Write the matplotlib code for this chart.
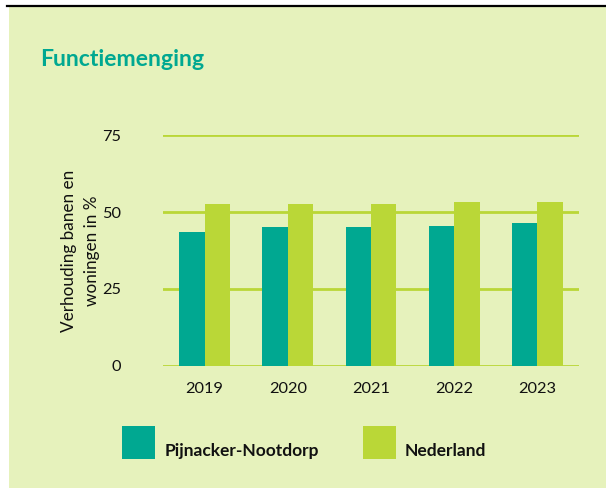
import numpy as np
import matplotlib.pyplot as plt
from matplotlib.patches import Rectangle
from matplotlib.lines import Line2D

# data
jaren = ["2019", "2020", "2021", "2022", "2023"]
pijnacker = [43.5, 45.0, 45.0, 45.5, 46.3]
nederland = [52.7, 52.7, 52.7, 53.3, 53.3]
yticks = [0, 25, 50, 75]

teal = "#00A891"
lime = "#BAD737"
bg = "#E6F2BC"

plt.rcParams['font.family'] = ['Lato', 'DejaVu Sans']

fig = plt.figure(figsize=(6.06, 4.88), dpi=100)
fig.patch.set_facecolor("white")

# achtergrondvlak en zwarte lijn bovenaan
fig.add_artist(Rectangle((9/606, 0), 1 - 9/606, 1 - 7/488, transform=fig.transFigure,
                         facecolor=bg, edgecolor="none", zorder=-10))
fig.add_artist(Line2D([7/606, 1], [1 - 6/488, 1 - 6/488], transform=fig.transFigure,
                      color="black", lw=1.6))

ax = fig.add_axes([163/606, 1 - 365.7/488, 416/606, (365.7 - 135.3)/488])
ax.set_facecolor("none")

x = np.arange(len(jaren))
w = 0.305
ax.bar(x - w/2, pijnacker, w, color=teal, zorder=3)
ax.bar(x + w/2, nederland, w, color=lime, zorder=3)

ax.set_xlim(-0.5, len(jaren) - 0.5)
ax.set_ylim(0, 75)
ax.set_yticks(yticks)
ax.set_xticks(x)
ax.set_xticklabels(jaren)
for s in ax.spines.values():
    s.set_visible(False)
ax.yaxis.grid(True, color=lime, lw=2, zorder=1)
ax.set_axisbelow(True)
ax.tick_params(axis="both", length=0, labelsize=11.8, labelcolor="#111111")
ax.tick_params(axis="y", pad=30)
ax.tick_params(axis="x", pad=12)

ax.set_ylabel("Verhouding banen en\nwoningen in %", fontsize=12.3, color="#111111",
              labelpad=2, linespacing=1.5)

fig.text(40/606, 1 - 60/488, "Functiemenging", fontsize=16.6, fontweight="bold",
         color=teal, va="center", ha="left")

# legenda
for (x0, kleur, naam, tx) in [(122, teal, "Pijnacker-Nootdorp", 165), (363, lime, "Nederland", 405)]:
    fig.add_artist(Rectangle((x0/606, 1 - 459/488), 33/606, 33/488, transform=fig.transFigure,
                             facecolor=kleur, edgecolor="none"))
    fig.text(tx/606, 1 - 451/488, naam, fontsize=12.5, fontweight="bold",
             color="#111111", va="center", ha="left")

fig.savefig("out.png", dpi=100, facecolor=fig.get_facecolor())
